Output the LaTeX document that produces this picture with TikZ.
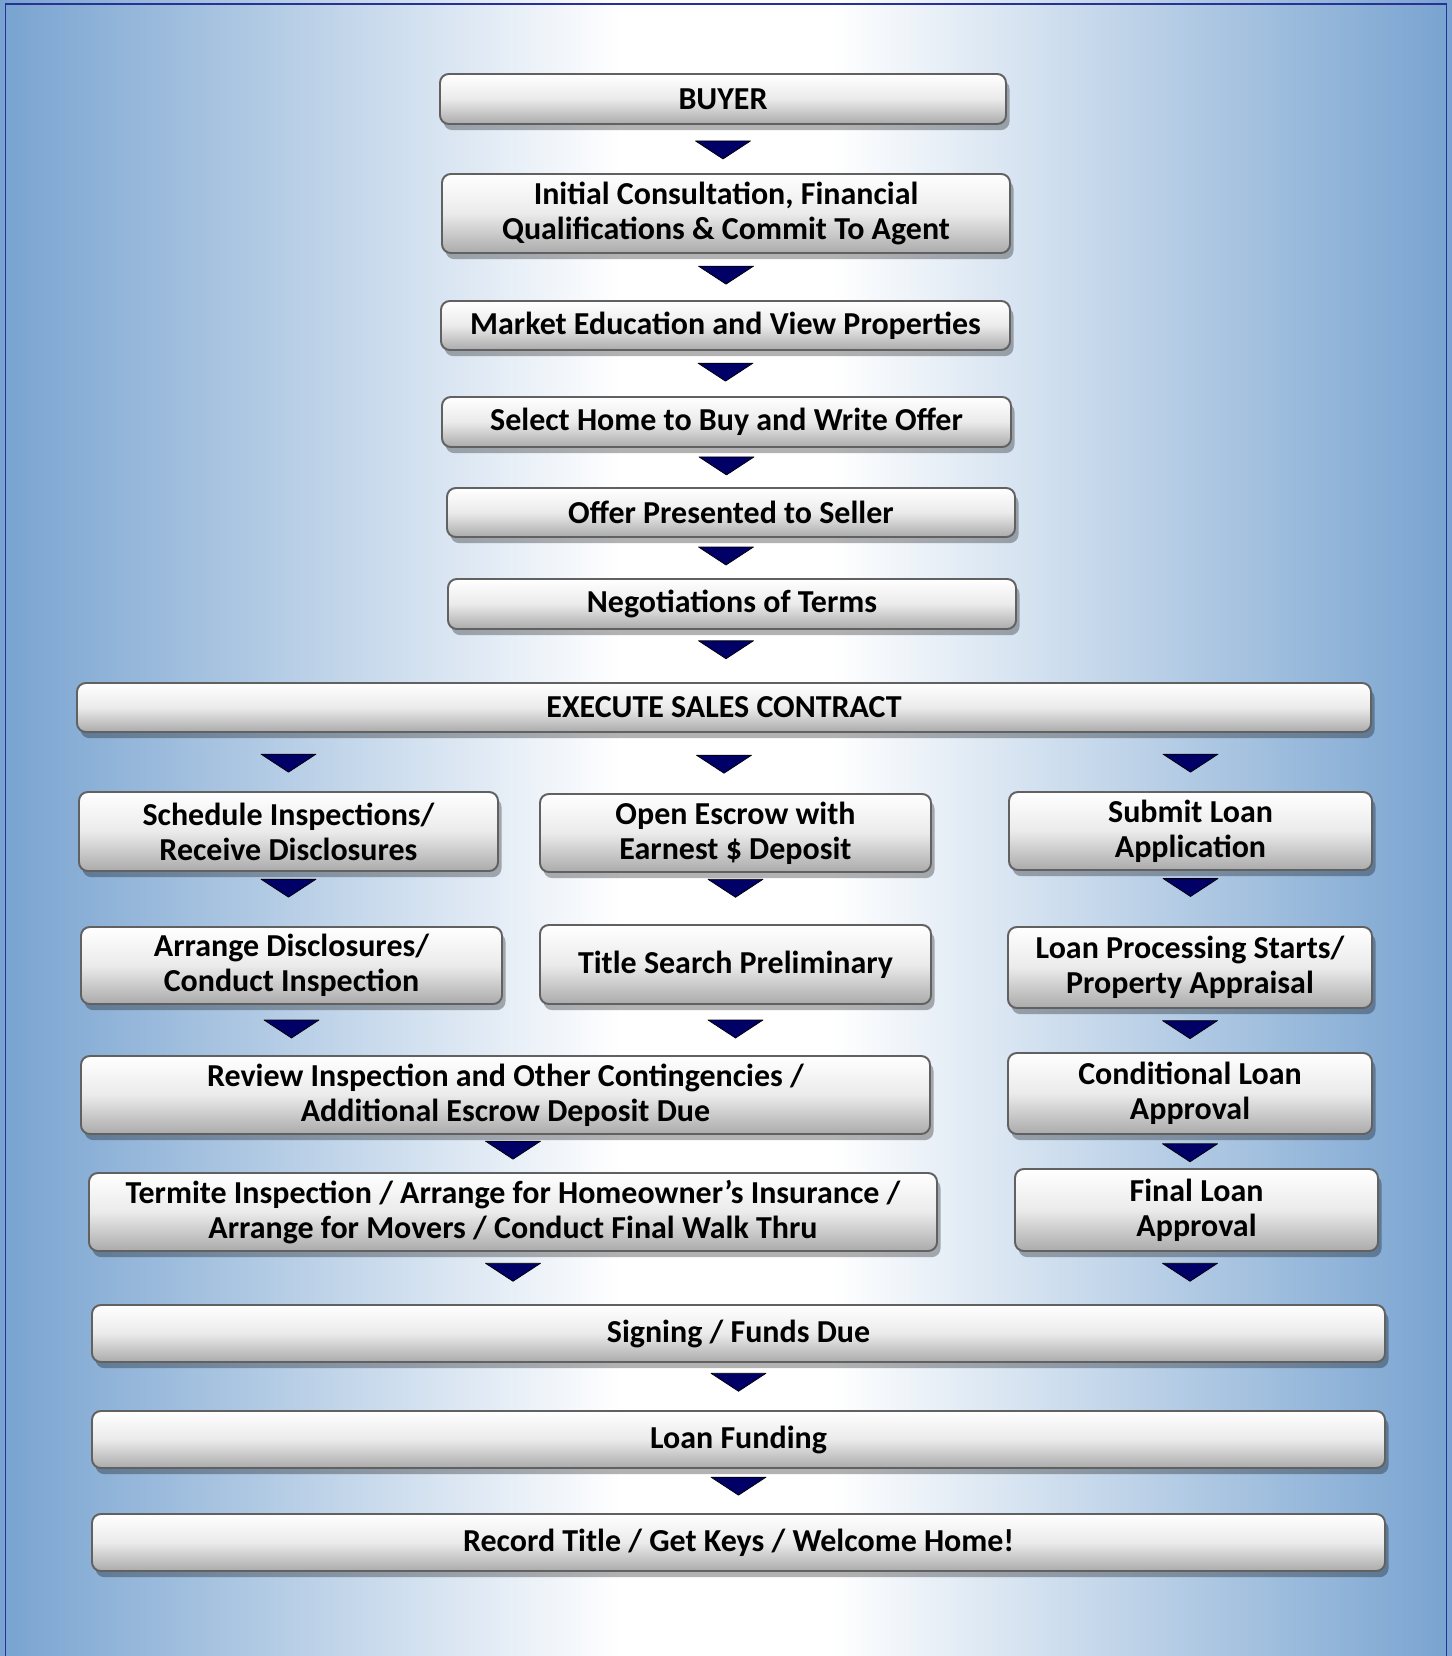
\documentclass[tikz,border=0pt]{standalone}
\usepackage{fontspec}
\setmainfont{Carlito}
\usetikzlibrary{shadows,calc}
\definecolor{bgblue}{RGB}{120,163,208}
\definecolor{framecol}{RGB}{40,50,150}
\definecolor{navy}{RGB}{0,0,102}
\def\px{0.02cm}
\tikzset{
	flowbox/.style={draw=black!62, line width=1.1pt, rounded corners=5pt,
		top color=white, bottom color=black!33, middle color=black!8,
		drop shadow={shadow xshift=2pt, shadow yshift=-3.5pt, fill=black, opacity=.3},
		font=\fontsize{18.2}{20}\selectfont\bfseries, align=center, inner sep=0pt},
	tri/.style={fill=navy, draw=black, line width=.4pt, line join=round}
}
%Ô bước: tên, tâm (x,y), rộng, cao, chữ
\newcommand\stepbox[6]{\node[flowbox, minimum width=#4*\px, minimum height=#5*\px] (#1) at (#2,#3) {#6};}
%Tam giác chỉ xuống giữa hai ô, hoành độ lấy theo ô thứ ba
\newcommand\darr[4][.45]{%
	\path (#2.south) -- (#3.north) coordinate[pos=#1] (m);
	\draw[tri] (m -| #4) ++(-27.5,-9) -- ++(55,0) -- ++(-27.5,18) -- cycle;}
\begin{document}
\begin{tikzpicture}[x=0.02cm, y=-0.02cm]
	\useasboundingbox (0,0) rectangle (1452,1656);
	%Nền
	\shade[left color=bgblue, right color=white] (0,0) rectangle (621,1656);
	\fill[white] (620,0) rectangle (833,1656);
	\shade[left color=white, right color=bgblue] (832,0) rectangle (1452,1656);
	\draw[framecol, line width=1pt] (5.5,1656) -- (5.5,4) -- (1446.5,4) -- (1446.5,1656);
	%Cột giữa
	\stepbox{buyer}{723}{99}{566}{50}{BUYER}
	\stepbox{consult}{726}{213.5}{568}{79}{Initial Consultation, Financial\\Qualifications \& Commit To Agent}
	\stepbox{market}{725.5}{325.5}{569}{49}{Market Education and View Properties}
	\stepbox{select}{726.5}{422}{569}{50}{Select Home to Buy and Write Offer}
	\stepbox{offer}{731}{512.5}{568}{49}{Offer Presented to Seller}
	\stepbox{negot}{732}{604}{568}{50}{Negotiations of Terms}
	\stepbox{contract}{724}{707.5}{1294}{49}{EXECUTE SALES CONTRACT}
	%Ba nhánh
	\stepbox{sched}{288.5}{831.5}{419}{79}{Schedule Inspections/\\Receive Disclosures}
	\stepbox{escrow}{735.5}{833}{391}{78}{Open Escrow with\\Earnest \$ Deposit}
	\stepbox{loanapp}{1190.5}{831}{363}{78}{Submit Loan\\Application}
	\stepbox{arrange}{291.5}{965.5}{421}{77}{Arrange Disclosures/\\Conduct Inspection}
	\stepbox{title}{735.5}{964.5}{391}{79}{Title Search Preliminary}
	\stepbox{process}{1190}{967.5}{364}{81}{Loan Processing Starts/\\Property Appraisal}
	\stepbox{review}{505.5}{1095}{849}{78}{Review Inspection and Other Contingencies /\\Additional Escrow Deposit Due}
	\stepbox{condit}{1190}{1093.5}{364}{81}{Conditional Loan\\Approval}
	\stepbox{termite}{513}{1212}{848}{78}{Termite Inspection / Arrange for Homeowner’s Insurance /\\Arrange for Movers / Conduct Final Walk Thru}
	\stepbox{final}{1196.5}{1210}{363}{82}{Final Loan\\Approval}
	%Kết thúc
	\stepbox{signing}{738.5}{1333.5}{1293}{57}{Signing / Funds Due}
	\stepbox{funding}{738.5}{1439.5}{1293}{57}{Loan Funding}
	\stepbox{record}{738.5}{1542.5}{1293}{57}{Record Title / Get Keys / Welcome Home!}
	%Các mũi tên tam giác
	\foreach \a/\b/\c/\f in {buyer/consult/buyer/.52, consult/market/consult/.46,
		market/select/market/.47, select/offer/select/.46, offer/negot/consult/.45,
		negot/contract/consult/.38, contract/sched/sched/.52, contract/escrow/contract/.52,
		contract/loanapp/loanapp/.52, sched/arrange/sched/.3, escrow/title/escrow/.3,
		loanapp/process/loanapp/.3, arrange/review/arrange/.48, title/review/title/.48,
		process/condit/process/.48, review/termite/termite/.41, condit/final/condit/.54,
		termite/signing/termite/.39, final/signing/condit/.39, signing/funding/signing/.41,
		funding/record/funding/.39}
	\darr[\f]{\a}{\b}{\c};
\end{tikzpicture}
\end{document}
